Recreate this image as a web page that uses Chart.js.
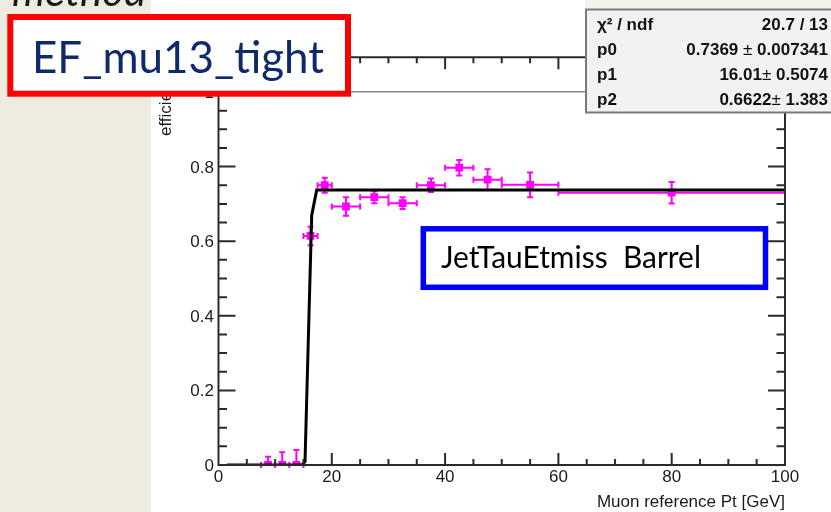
<!DOCTYPE html>
<html>
<head>
<meta charset="utf-8">
<script src="https://cdn.jsdelivr.net/npm/chart.js@4"></script>
<style>
    html, body { margin: 0; padding: 0; background: #fff; }
    #wrap { width: 831px; height: 512px; }
</style>
</head>
<body>
<div id="wrap"><canvas id="myChart" width="831" height="512"></canvas></div>
<script>
// measured points: bin centre [GeV], efficiency, errors
const ptCenter = [8.75, 11.25, 13.75, 16.25, 18.75, 22.5, 27.5, 32.5, 37.5, 42.5, 47.5, 55, 80];
const ptHalfWidth = [1.25, 1.25, 1.25, 1.25, 1.25, 2.5, 2.5, 2.5, 2.5, 2.5, 2.5, 5, 20];
const effValue = [0, 0, 0, 0.614, 0.750, 0.693, 0.718, 0.702, 0.750, 0.797, 0.765, 0.751, 0.730];
const effErrUp = [0.022, 0.034, 0.040, 0.025, 0.020, 0.025, 0.016, 0.016, 0.018, 0.021, 0.028, 0.033, 0.029];
const effErrDown = [0, 0, 0, 0.025, 0.020, 0.025, 0.016, 0.016, 0.018, 0.021, 0.028, 0.033, 0.029];

// fit curve as drawn
const fitPt = [1.5, 14.7, 15.27, 16.45, 17.33, 100];
const fitEff = [0, 0, 0.009, 0.669, 0.737, 0.737];

// axes
const xTickValues = [0, 20, 40, 60, 80, 100];
const xTickLabels = ['0', '20', '40', '60', '80', '100'];
const yTickValues = [0, 0.2, 0.4, 0.6, 0.8, 1.0];
const yTickLabels = ['0', '0.2', '0.4', '0.6', '0.8', '1'];
const yMax = 1.093;

// fit statistics box
const statNames = ['\u03C7\u00B2 / ndf', 'p0', 'p1', 'p2'];
const statValues = ['20.7 / 13', '0.7369 \u00B1 0.007341', '16.01\u00B1 0.5074', '0.6622\u00B1 1.383'];

const MAGENTA = '#ff00ff';
const AXIS = '#2a2a2a';
const ROOTFONT = '"Liberation Sans", Arial, sans-serif';

const backdrop = {
    id: 'backdrop',
    beforeDraw(chart) {
        const ctx = chart.ctx;
        ctx.save();
        ctx.fillStyle = '#eeece1';
        ctx.fillRect(0, 0, 831, 512);
        ctx.fillStyle = '#1a1a1a';
        ctx.font = 'italic 42px Lato, "Open Sans", sans-serif';
        ctx.textBaseline = 'alphabetic';
        ctx.fillText('method', 12, 6);
        ctx.fillStyle = '#ffffff';
        ctx.fillRect(151, 0, 680, 512);
        ctx.fillStyle = '#f4f2ec';
        ctx.fillRect(585, 0, 246, 9);
        ctx.restore();
    }
};

const errorBars = {
    id: 'errorBars',
    beforeDatasetsDraw(chart) {
        const ctx = chart.ctx;
        const xs = chart.scales.x, ys = chart.scales.y;
        const cap = 3;
        ctx.save();
        ctx.strokeStyle = MAGENTA;
        ctx.lineWidth = 2;
        ctx.beginPath();
        for (let i = 0; i < ptCenter.length; i++) {
            const px = xs.getPixelForValue(ptCenter[i]);
            const py = ys.getPixelForValue(effValue[i]);
            const x1 = xs.getPixelForValue(ptCenter[i] - ptHalfWidth[i]);
            const x2 = xs.getPixelForValue(ptCenter[i] + ptHalfWidth[i]);
            const y1 = ys.getPixelForValue(effValue[i] + effErrUp[i]);
            const y2 = ys.getPixelForValue(effValue[i] - effErrDown[i]);
            ctx.moveTo(x1, py); ctx.lineTo(x2, py);
            ctx.moveTo(x1, py - cap); ctx.lineTo(x1, py + cap);
            ctx.moveTo(x2, py - cap); ctx.lineTo(x2, py + cap);
            ctx.moveTo(px, y1); ctx.lineTo(px, y2);
            ctx.moveTo(px - cap, y1); ctx.lineTo(px + cap, y1);
            if (effErrDown[i] > 0) {
                ctx.moveTo(px - cap, y2); ctx.lineTo(px + cap, y2);
            }
        }
        ctx.stroke();
        ctx.restore();
    }
};

function drawStat(ctx, text, rightX, y) {
    const bold = 'bold 17px ' + ROOTFONT;
    const plain = '17px ' + ROOTFONT;
    const parts = text.split('\u00B1');
    ctx.font = bold;
    if (parts.length < 2) {
        ctx.textAlign = 'right';
        ctx.fillText(text, rightX, y);
        return;
    }
    const w2 = ctx.measureText(parts[1]).width;
    const w1 = ctx.measureText(parts[0]).width;
    ctx.font = plain;
    const wpm = ctx.measureText('\u00B1').width;
    let x = rightX - (w1 + wpm + w2);
    ctx.textAlign = 'left';
    ctx.font = bold;
    ctx.fillText(parts[0], x, y);
    x += w1;
    ctx.font = plain;
    ctx.fillText('\u00B1', x, y);
    x += wpm;
    ctx.font = bold;
    ctx.fillText(parts[1], x, y);
}

const rootFrame = {
    id: 'rootFrame',
    afterDraw(chart) {
        const ctx = chart.ctx;
        const xs = chart.scales.x, ys = chart.scales.y;
        const a = chart.chartArea;
        ctx.save();

        // frame + ticks
        ctx.strokeStyle = AXIS;
        ctx.lineWidth = 2;
        ctx.beginPath();
        ctx.rect(a.left, a.top, a.right - a.left, a.bottom - a.top);
        for (let k = 0; k <= 20; k++) {
            const v = k * 5;
            const px = xs.getPixelForValue(v);
            const len = v % 20 === 0 ? 12 : 6;
            ctx.moveTo(px, a.bottom); ctx.lineTo(px, a.bottom - len);
            ctx.moveTo(px, a.top); ctx.lineTo(px, a.top + len);
        }
        for (let k = 0; k * 0.05 <= yMax; k++) {
            const py = ys.getPixelForValue(k * 0.05);
            const len = k % 4 === 0 ? 17 : 8.5;
            ctx.moveTo(a.left, py); ctx.lineTo(a.left + len, py);
            ctx.moveTo(a.right, py); ctx.lineTo(a.right - len, py);
        }
        ctx.stroke();

        // grey rule below the top axis
        ctx.strokeStyle = '#8a8a8a';
        ctx.lineWidth = 1.5;
        ctx.beginPath();
        ctx.moveTo(351, 91.7); ctx.lineTo(586, 91.7);
        ctx.stroke();

        // tick labels
        ctx.fillStyle = '#1a1a1a';
        ctx.font = '17px ' + ROOTFONT;
        ctx.textAlign = 'center';
        ctx.textBaseline = 'alphabetic';
        xTickValues.forEach((v, i) => {
            ctx.fillText(xTickLabels[i], xs.getPixelForValue(v), 482);
        });
        ctx.textAlign = 'right';
        yTickValues.forEach((v, i) => {
            ctx.fillText(yTickLabels[i], 214, ys.getPixelForValue(v) + 6);
        });

        // axis titles
        ctx.fillText('Muon reference Pt [GeV]', a.right, 507);
        ctx.save();
        ctx.translate(171, 136);
        ctx.rotate(-Math.PI / 2);
        ctx.textAlign = 'left';
        ctx.fillText('efficiency', 0, 0);
        ctx.restore();

        // stats box
        ctx.fillStyle = '#f2f2f2';
        ctx.fillRect(586, 9.5, 250, 103);
        ctx.strokeStyle = '#7a7a7a';
        ctx.lineWidth = 2;
        ctx.strokeRect(586, 9.5, 250, 103);
        ctx.fillStyle = '#111';
        statNames.forEach((name, i) => {
            const y = 29.5 + i * 25;
            ctx.font = 'bold 17px ' + ROOTFONT;
            ctx.textAlign = 'left';
            ctx.fillText(name, 597, y);
            drawStat(ctx, statValues[i], 828, y);
        });

        // red label box
        ctx.fillStyle = '#ffffff';
        ctx.fillRect(10, 17, 338, 77);
        ctx.strokeStyle = '#ff0000';
        ctx.lineWidth = 6;
        ctx.strokeRect(10.3, 17, 337.7, 76.7);
        ctx.fillStyle = '#0f2a6b';
        ctx.textAlign = 'left';
        ctx.font = '44px Lato, "Open Sans", sans-serif';
        ctx.fillText('EF_mu13_tight', 32, 73, 292);

        // blue label box
        ctx.fillStyle = '#ffffff';
        ctx.fillRect(423, 229, 342, 58);
        ctx.strokeStyle = '#0000ff';
        ctx.lineWidth = 5.5;
        ctx.strokeRect(423.3, 228.8, 342.2, 58.5);
        ctx.fillStyle = '#000000';
        ctx.font = '30px Lato, "Open Sans", sans-serif';
        ctx.fillText('JetTauEtmiss  Barrel', 441, 268, 260);

        ctx.restore();
    }
};

const ctx = document.getElementById('myChart').getContext('2d');
const myChart = new Chart(ctx, {
    type: 'scatter',
    data: {
        datasets: [
            {
                label: 'fit',
                data: fitPt.map((x, i) => ({ x: x, y: fitEff[i] })),
                showLine: true,
                borderColor: '#000000',
                borderWidth: 3,
                pointRadius: 0,
                tension: 0,
                order: 1
            },
            {
                label: 'efficiency',
                data: ptCenter.map((x, i) => ({ x: x, y: effValue[i] })),
                pointStyle: 'rect',
                pointRadius: 5.5,
                backgroundColor: MAGENTA,
                borderColor: MAGENTA,
                borderWidth: 0,
                order: 2
            }
        ]
    },
    options: {
        responsive: false,
        animation: false,
        devicePixelRatio: 1,
        layout: { padding: { left: 218.5, right: 46, top: 57.3, bottom: 47 } },
        scales: {
            x: { type: 'linear', min: 0, max: 100, display: false },
            y: { type: 'linear', min: 0, max: yMax, display: false }
        },
        plugins: {
            legend: { display: false },
            tooltip: { enabled: false }
        }
    },
    plugins: [backdrop, errorBars, rootFrame]
});
</script>
</body>
</html>
